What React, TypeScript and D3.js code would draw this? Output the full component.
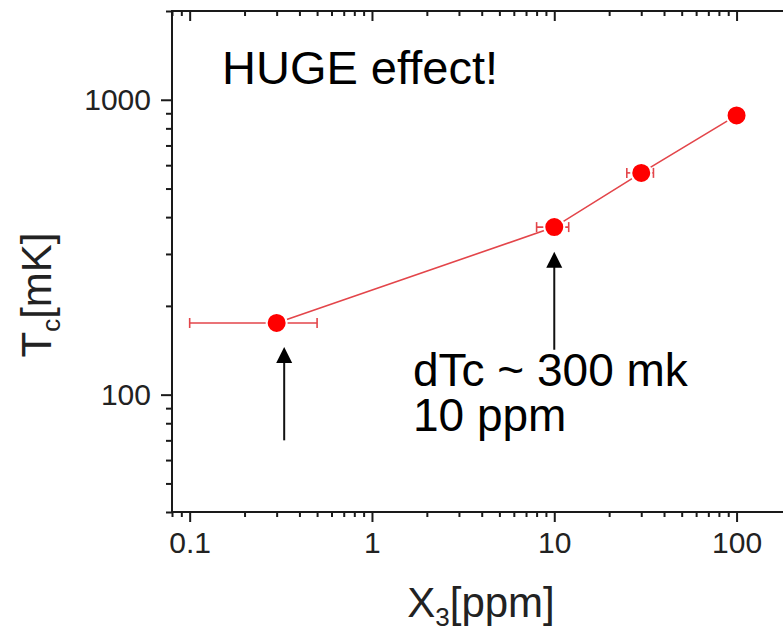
import React, { useEffect, useRef } from 'react';
import * as d3 from 'd3';

// measured points (X3 in ppm, Tc in mK)
const x3Ppm = [0.3, 10, 30, 100];
const tcMk = [175, 370, 565, 885];
const x3ErrLow = [0.1, 8, 25, 100];
const x3ErrHigh = [0.5, 12, 35, 100];

const xMajorTicks = [0.1, 1, 10, 100];
const xTickLabels = ['0.1', '1', '10', '100'];
const yMajorTicks = [100, 1000];
const yTickLabels = ['100', '1000'];

// arrows: x position, tail Tc, tip Tc
const arrowX = [0.33, 10];
const arrowTail = [70, 142];
const arrowTip = [145, 305];

const width = 783;
const height = 628;
const left = 172;
const top = 11;
const bottom = 512;

function App() {
  const chartRef = useRef<SVGSVGElement>(null);

  useEffect(() => {
    const svg = d3.select(chartRef.current);
    svg.selectAll('*').remove();

    const xScale = d3.scaleLog().domain([0.08, 200]).range([left, left + 182.3 * Math.log10(200 / 0.08)]);
    const yScale = d3.scaleLog().domain([40, 2000]).range([bottom, top]);
    const right = xScale(200);

    const axisColor = '#1a1a1a';
    const font = "'Liberation Sans', Arial, sans-serif";

    const xMinor = xScale.ticks().filter(t => !xMajorTicks.some(m => Math.abs(m - t) < 1e-9));
    const yMinor = yScale.ticks().filter(t => !yMajorTicks.some(m => Math.abs(m - t) < 1e-9));

    const styleAxis = (g: any) => {
      g.select('.domain').remove();
      g.selectAll('line').attr('stroke', axisColor).attr('stroke-width', 2);
      g.selectAll('text').attr('fill', '#222').style('font-family', font).style('font-size', '30px');
    };

    // bottom axis
    svg.append('g').attr('transform', `translate(0, ${bottom})`)
      .call(d3.axisBottom(xScale).tickValues(xMinor).tickSize(5).tickFormat(() => ''))
      .call(styleAxis);
    svg.append('g').attr('transform', `translate(0, ${bottom})`)
      .call(d3.axisBottom(xScale).tickValues(xMajorTicks).tickSize(10).tickPadding(10)
        .tickFormat((d, i) => xTickLabels[i]))
      .call(styleAxis);

    // top axis, ticks pointing in
    svg.append('g').attr('transform', `translate(0, ${top})`)
      .call(d3.axisBottom(xScale).tickValues(xMinor).tickSize(5).tickFormat(() => ''))
      .call(styleAxis);
    svg.append('g').attr('transform', `translate(0, ${top})`)
      .call(d3.axisBottom(xScale).tickValues(xMajorTicks).tickSize(10).tickFormat(() => ''))
      .call(styleAxis);

    // left axis
    svg.append('g').attr('transform', `translate(${left}, 0)`)
      .call(d3.axisLeft(yScale).tickValues(yMinor).tickSize(6).tickFormat(() => ''))
      .call(styleAxis);
    svg.append('g').attr('transform', `translate(${left}, 0)`)
      .call(d3.axisLeft(yScale).tickValues(yMajorTicks).tickSize(11).tickPadding(10)
        .tickFormat((d, i) => yTickLabels[i]))
      .call(styleAxis);

    // frame
    svg.append('rect')
      .attr('x', left).attr('y', top)
      .attr('width', right - left).attr('height', bottom - top)
      .attr('fill', 'none').attr('stroke', axisColor).attr('stroke-width', 2);

    const pts = x3Ppm.map((x, i) => ({ x, y: tcMk[i], lo: x3ErrLow[i], hi: x3ErrHigh[i] }));
    const lineColor = '#e3454a';

    const line = d3.line<any>().x(d => xScale(d.x)).y(d => yScale(d.y));
    svg.append('path').datum(pts)
      .attr('d', line).attr('fill', 'none')
      .attr('stroke', lineColor).attr('stroke-width', 1.6);

    // horizontal error bars
    const eb = svg.append('g').attr('stroke', lineColor).attr('stroke-width', 1.6);
    pts.filter(p => p.hi > p.lo).forEach(p => {
      const y = yScale(p.y);
      eb.append('line').attr('x1', xScale(p.lo)).attr('x2', xScale(p.hi)).attr('y1', y).attr('y2', y);
      [p.lo, p.hi].forEach(v => {
        eb.append('line').attr('x1', xScale(v)).attr('x2', xScale(v)).attr('y1', y - 5).attr('y2', y + 5);
      });
    });

    svg.append('g').selectAll('circle').data(pts).join('circle')
      .attr('cx', d => xScale(d.x)).attr('cy', d => yScale(d.y)).attr('r', 10)
      .attr('fill', '#ff0000').attr('stroke', '#fff').attr('stroke-width', 2);

    // arrows
    arrowX.forEach((ax, i) => {
      const x = xScale(ax);
      const yTail = yScale(arrowTail[i]);
      const yTip = yScale(arrowTip[i]);
      svg.append('line').attr('x1', x).attr('x2', x).attr('y1', yTail).attr('y2', yTip + 12)
        .attr('stroke', '#111').attr('stroke-width', 2);
      svg.append('path')
        .attr('d', `M${x},${yTip} L${x - 8},${yTip + 16} L${x + 8},${yTip + 16} Z`)
        .attr('fill', '#000');
    });

    // annotations
    svg.append('text').attr('x', 222).attr('y', 84)
      .style('font-family', font).style('font-size', '47px').attr('fill', '#000')
      .text('HUGE effect!');
    const note = svg.append('text').attr('x', 413).attr('y', 386)
      .style('font-family', font).style('font-size', '46px').attr('fill', '#000');
    note.append('tspan').attr('x', 413).text('dTc ~ 300 mk');
    note.append('tspan').attr('x', 413).attr('dy', 45).text('10 ppm');

    // axis titles
    const yt = svg.append('text').attr('transform', 'translate(51, 295) rotate(-90)')
      .attr('text-anchor', 'middle')
      .style('font-family', font).style('font-size', '42px').attr('fill', '#222');
    yt.append('tspan').text('T');
    yt.append('tspan').attr('dy', 9).style('font-size', '26px').text('c');
    yt.append('tspan').attr('dy', -9).text('[mK]');

    const xt = svg.append('text').attr('x', 481).attr('y', 617)
      .attr('text-anchor', 'middle')
      .style('font-family', font).style('font-size', '42px').attr('fill', '#222');
    xt.append('tspan').text('X');
    xt.append('tspan').attr('dy', 9).style('font-size', '26px').text('3');
    xt.append('tspan').attr('dy', -9).text('[ppm]');
  }, []);

  return (
    <svg ref={chartRef} width={width} height={height}
      style={{ position: 'absolute', left: 0, top: 0, background: '#fff' }} />
  );
}

export default App;
